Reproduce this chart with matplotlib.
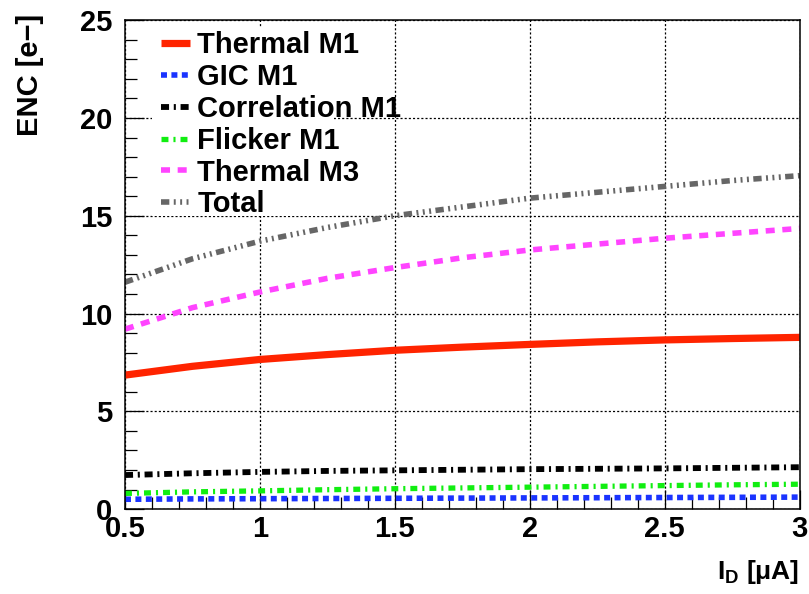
import matplotlib
matplotlib.use("Agg")
import matplotlib.pyplot as plt
from matplotlib.patches import Rectangle
from matplotlib.ticker import MultipleLocator

plt.rcParams['font.family'] = ['Liberation Sans', 'DejaVu Sans']
plt.rcParams['font.weight'] = 'bold'
plt.rcParams['axes.labelweight'] = 'bold'
plt.rcParams['mathtext.fontset'] = 'custom'
plt.rcParams['mathtext.rm'] = 'Liberation Sans:bold'
plt.rcParams['lines.scale_dashes'] = False

# drain current (uA)
i_d = [0.5, 0.75, 1.0, 1.25, 1.5, 1.75, 2.0, 2.25, 2.5, 2.75, 3.0]

# ENC contributions (e-)
thermal_m1 = [6.85, 7.3, 7.65, 7.9, 8.12, 8.28, 8.42, 8.55, 8.65, 8.72, 8.78]
gic_m1 = [0.5, 0.52, 0.53, 0.54, 0.55, 0.56, 0.57, 0.58, 0.59, 0.6, 0.61]
correlation_m1 = [1.74, 1.83, 1.9, 1.95, 1.98, 2.01, 2.04, 2.06, 2.08, 2.11, 2.14]
flicker_m1 = [0.8, 0.88, 0.93, 0.99, 1.04, 1.08, 1.12, 1.16, 1.2, 1.24, 1.27]
thermal_m3 = [9.2, 10.3, 11.1, 11.8, 12.35, 12.85, 13.25, 13.55, 13.85, 14.1, 14.35]
total = [11.6, 12.8, 13.7, 14.4, 15.0, 15.45, 15.9, 16.2, 16.5, 16.8, 17.05]

fig = plt.figure(figsize=(8.09, 5.94), dpi=100)
ax = fig.add_axes([0.1545, 0.143, 0.834, 0.823])

ax.plot(i_d, thermal_m1, color='#ff2400', lw=5.2, solid_capstyle='butt', label='Thermal M1')
ax.plot(i_d, gic_m1, color='#1a33ff', lw=4.0, dashes=(4.3, 3.2), label='GIC M1')
ax.plot(i_d, correlation_m1, color='black', lw=4.2,
        dashes=(5.8, 3.4, 1.5, 3.4), label='Correlation M1')
ax.plot(i_d, flicker_m1, color='#11ee11', lw=3.8,
        dashes=(5.0, 3.6, 1.5, 3.6), label='Flicker M1')
ax.plot(i_d, thermal_m3, color='#ff44ff', lw=4.0, dashes=(6.5, 5.5), label='Thermal M3')
ax.plot(i_d, total, color='#666666', lw=4.0,
        dashes=(6.0, 3.2, 1.4, 3.2, 1.4, 3.2, 1.4, 3.2), label='Total')

ax.set_xlim(0.5, 3.0)
ax.set_ylim(0, 25)
ax.xaxis.set_major_locator(MultipleLocator(0.5))
ax.xaxis.set_minor_locator(MultipleLocator(0.1))
ax.yaxis.set_major_locator(MultipleLocator(5))
ax.yaxis.set_minor_locator(MultipleLocator(1))
ax.set_xticks([0.5, 1, 1.5, 2, 2.5, 3], ['0.5', '1', '1.5', '2', '2.5', '3'])
ax.set_yticks([0, 5, 10, 15, 20, 25], ['0', '5', '10', '15', '20', '25'])

ax.tick_params(which='both', direction='in', top=False, right=False, width=0.9)
ax.tick_params(which='major', length=14, labelsize=21)
ax.tick_params(axis='x', which='major', pad=4)
ax.tick_params(axis='y', which='major', pad=9)
ax.tick_params(which='minor', length=8.5)
for s in ax.spines.values():
    s.set_linewidth(1.1)

ax.grid(True, which='major', color='black', lw=0.9, linestyle=(0, (1.5, 1.5)))
ax.set_axisbelow(True)

ax.set_ylabel('ENC [e\u2212]', fontsize=21, loc='top')
ax.yaxis.set_label_coords(-0.12, 1.012)
ax.set_xlabel('I$_{\\mathrm{D}}$ [\u03bcA]', fontsize=19, loc='right')
ax.xaxis.set_label_coords(1.0, -0.1)

# white legend background covering the grid
ax.add_patch(Rectangle((0.04, 0.6), 0.27, 0.385, transform=ax.transAxes,
                       facecolor='white', edgecolor='none', zorder=2.5))
ax.legend(loc='upper left', bbox_to_anchor=(0.04, 0.995), frameon=False,
          fontsize=21, handlelength=1.0, handletextpad=0.25,
          labelspacing=0.13, borderaxespad=0.0, borderpad=0.3)

fig.savefig('out.png', dpi=100)
